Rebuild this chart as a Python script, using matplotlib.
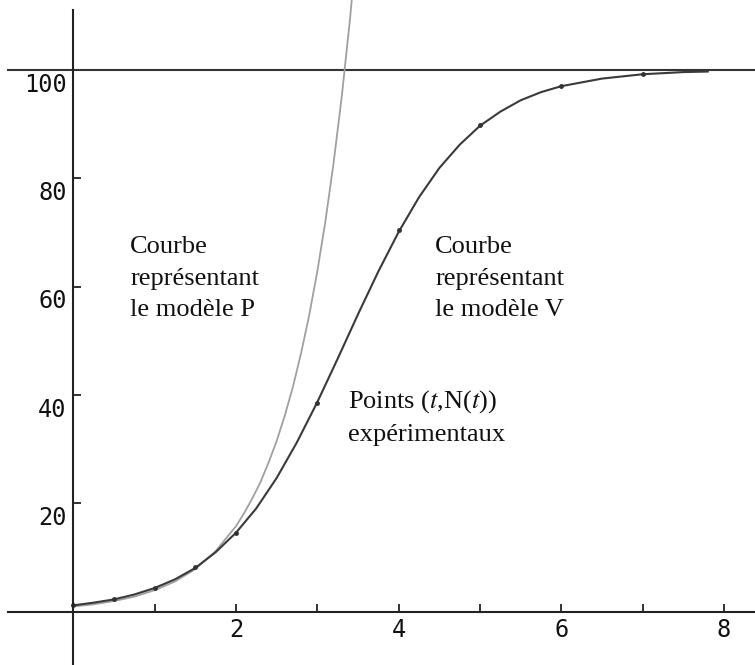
import matplotlib
matplotlib.use("Agg")
import matplotlib.pyplot as plt

# modele V (courbe logistique)
t_v = [0, 0.25, 0.5, 0.75, 1.0, 1.25, 1.5, 1.75, 2.0, 2.25, 2.5, 2.75, 3.0,
       3.25, 3.5, 3.75, 4.0, 4.25, 4.5, 4.75, 5.0, 5.25, 5.5, 5.75, 6.0,
       6.5, 7.0, 7.5, 7.8]
n_v = [1.2, 1.7, 2.3, 3.2, 4.4, 6.0, 8.1, 11.0, 14.6, 19.1, 24.7, 31.3, 38.7,
       46.7, 54.9, 62.8, 70.1, 76.5, 81.9, 86.2, 89.7, 92.3, 94.4, 95.9, 97.0,
       98.4, 99.2, 99.6, 99.7]

# modele P (courbe exponentielle)
t_p = [0, 0.25, 0.5, 0.75, 1.0, 1.25, 1.5, 1.75, 2.0, 2.1, 2.2, 2.3, 2.4,
       2.5, 2.6, 2.7, 2.8, 2.9, 3.0, 3.1, 3.2, 3.3, 3.4, 3.5]
n_p = [1.0, 1.4, 2.0, 2.8, 4.0, 5.6, 7.9, 11.2, 15.8, 18.2, 20.9, 23.9, 27.5,
       31.5, 36.2, 41.5, 47.7, 54.7, 62.8, 72.1, 82.8, 95.0, 109.1, 125.2]

# points experimentaux
t_pts = [0, 0.5, 1, 1.5, 2, 3, 4, 5, 6, 7]
n_pts = [1.3, 2.3, 4.4, 8.2, 14.6, 38.6, 70.5, 89.8, 97.1, 99.2]

x_ticks = [1, 2, 3, 4, 5, 6, 7, 8]
x_labels = [2, 4, 6, 8]
y_ticks = [20, 40, 60, 80, 100]

plt.rcParams['mathtext.fontset'] = 'stix'

dpi = 100
fig = plt.figure(figsize=(755 / dpi, 665 / dpi), dpi=dpi)
ax = fig.add_axes([0, 0, 1, 1])
ax.set_xlim(-0.9, 8.38)
ax.set_ylim(-9.8, 112.9)

axis_col = '#222222'
for side in ['top', 'right']:
    ax.spines[side].set_visible(False)
ax.spines['bottom'].set_position(('data', 0))
ax.spines['left'].set_position(('data', 0))
ax.spines['bottom'].set_bounds(-0.8, 8.38)
ax.spines['left'].set_bounds(-9.8, 111)
for side in ['bottom', 'left']:
    ax.spines[side].set_linewidth(1.5)
    ax.spines[side].set_color(axis_col)
ax.set_xticks(x_ticks)
ax.set_yticks(y_ticks)
ax.tick_params(direction='in', length=6, width=1.3, color=axis_col,
               labelbottom=False, labelleft=False)

ax.plot([-0.8, 8.38], [100, 100], color='#333333', lw=1.5)

for x in x_labels:
    ax.text(x, -1.2, str(x), ha='center', va='top', fontsize=17,
            family='DejaVu Sans Mono', color='#111111')
for y in y_ticks:
    ax.text(-0.08, y - 0.5, str(y), ha='right', va='top', fontsize=17,
            family='DejaVu Sans Mono', color='#111111')

ax.plot(t_p, n_p, color='#a0a0a0', lw=1.3)
ax.plot(t_v, n_v, color='#3a3a3a', lw=1.5)
ax.plot(t_pts, n_pts, 'o', color='#333333', ms=2.5)

txt = dict(fontsize=19, family='Liberation Serif', va='top', ha='left',
           linespacing=1.55, color='#111111')
ax.text(0.70, 69.3, "Courbe\nreprésentant\nle modèle P", **txt)
ax.text(4.45, 69.3, "Courbe\nreprésentant\nle modèle V", **txt)
ax.text(3.38, 41.3, "Points ($t$,N($t$))\nexpérimentaux", **txt)

fig.savefig('out.png', dpi=dpi)
